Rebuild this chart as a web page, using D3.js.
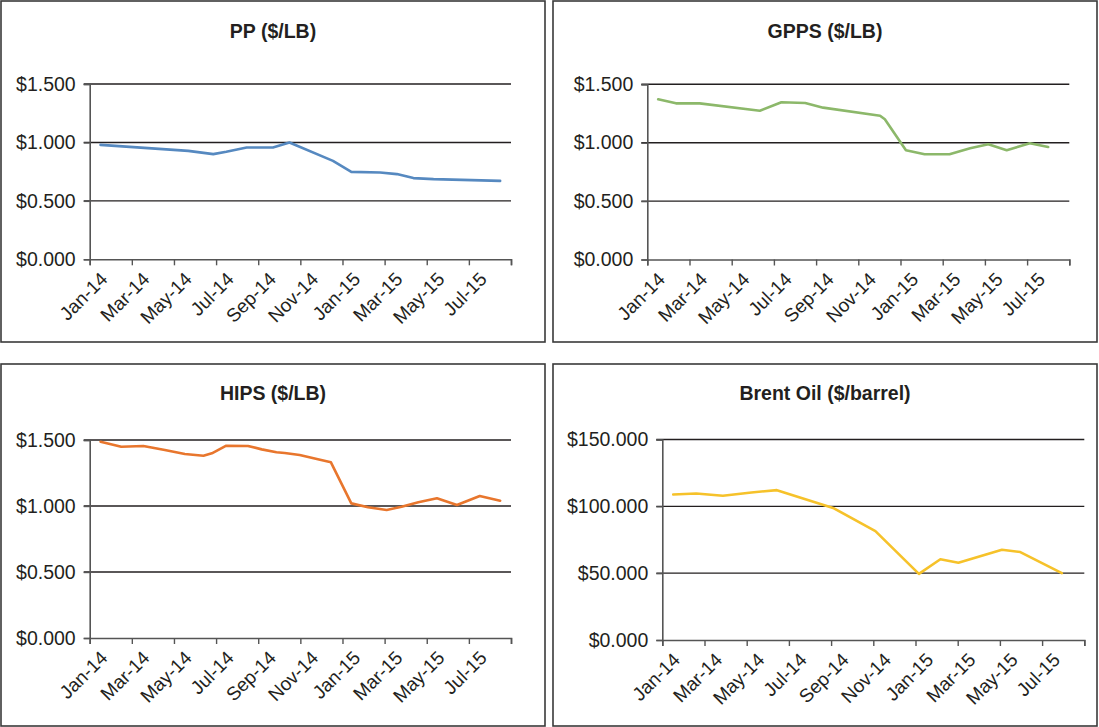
<!DOCTYPE html>
<html><head><meta charset="utf-8">
<script src="https://cdn.jsdelivr.net/npm/d3@7"></script>
<style>
body{margin:0;background:#fff;}
svg{display:block;font-family:"Liberation Sans",Arial,Helvetica,sans-serif;}
</style></head><body>
<svg id="chart" width="1099" height="727"></svg>
<script>
// ---- data ----
const tickLabels = ["Jan-14","Mar-14","May-14","Jul-14","Sep-14","Nov-14","Jan-15","Mar-15","May-15","Jul-15"];

const ppDates = ["2014-01-17","2014-05-22","2014-06-27","2014-07-16","2014-08-15","2014-09-22","2014-10-16",
  "2014-12-18","2015-01-14","2015-02-23","2015-03-19","2015-04-12","2015-05-11","2015-08-16"];
const ppValues = [0.979,0.928,0.900,0.920,0.957,0.957,1.000,0.842,0.748,0.743,0.729,0.695,0.686,0.671];

const gppsDates = ["2014-01-17","2014-02-11","2014-03-16","2014-06-11","2014-07-12","2014-08-16","2014-09-11",
  "2014-12-02","2014-12-09","2015-01-09","2015-02-05","2015-03-11","2015-04-10","2015-05-06","2015-06-02",
  "2015-07-05","2015-08-01"];
const gppsValues = [1.372,1.337,1.337,1.274,1.346,1.340,1.300,1.231,1.200,0.935,0.901,0.901,0.952,0.986,0.935,0.995,0.963];

const hipsDates = ["2014-01-17","2014-02-15","2014-03-18","2014-04-18","2014-05-17","2014-06-13","2014-06-25",
  "2014-07-16","2014-08-17","2014-09-06","2014-09-27","2014-10-09","2014-10-31","2014-11-26","2014-12-15",
  "2015-01-14","2015-02-07","2015-03-04","2015-03-26","2015-04-19","2015-05-16","2015-06-14","2015-07-17","2015-08-16"];
const hipsValues = [1.487,1.449,1.455,1.424,1.394,1.381,1.399,1.457,1.455,1.429,1.407,1.402,1.386,1.354,1.331,
  1.020,0.990,0.970,0.995,1.028,1.058,1.008,1.076,1.040];

const brentDates = ["2014-01-17","2014-02-18","2014-03-28","2014-05-08","2014-06-14","2014-09-05","2014-11-04",
  "2015-01-06","2015-02-06","2015-03-02","2015-05-04","2015-05-31","2015-07-30"];
const brentValues = [108.9,109.6,107.9,110.4,112.1,98.5,81.5,49.5,60.4,57.8,67.5,65.8,50.0];

const lbTicks = [0, 0.5, 1.0, 1.5];
const barrelTicks = [0, 50, 100, 150];

// ---- helpers ----
function monthPos(s){
  const [y,m,d] = s.split("-").map(Number);
  const dim = new Date(y, m, 0).getDate();
  return (y-2014)*12 + (m-1) + (d-1)/dim;
}
const fmt = v => "$" + d3.format(".3f")(v);

const panels = [
  {title:"PP ($/LB)", dates:ppDates, values:ppValues, color:"#5689c0", yTicks:lbTicks,
   box:{x:1,y:1,w:544,h:341}, plot:{l:89.7,r:511,t:84,b:259.3}, titleY:38},
  {title:"GPPS ($/LB)", dates:gppsDates, values:gppsValues, color:"#8cb86a", yTicks:lbTicks,
   box:{x:553,y:1,w:544,h:341}, plot:{l:647.3,r:1069.3,t:84.3,b:259.5}, titleY:38},
  {title:"HIPS ($/LB)", dates:hipsDates, values:hipsValues, color:"#e8762d", yTicks:lbTicks,
   box:{x:1,y:364,w:544,h:362}, plot:{l:89.7,r:511,t:440,b:638}, titleY:400},
  {title:"Brent Oil ($/barrel)", dates:brentDates, values:brentValues, color:"#f6c22a", yTicks:barrelTicks,
   box:{x:553,y:364,w:544,h:362}, plot:{l:662.3,r:1084.3,t:439.5,b:640}, titleY:400}
];

const svg = d3.select("#chart");

panels.forEach(p => {
  const g = svg.append("g");
  g.append("rect").attr("x",p.box.x).attr("y",p.box.y).attr("width",p.box.w).attr("height",p.box.h)
    .attr("fill","#fff").attr("stroke","#3a3a3a").attr("stroke-width",1.6);

  g.append("text").attr("x",p.box.x + p.box.w/2).attr("y",p.titleY)
    .attr("text-anchor","middle").attr("font-weight","bold").attr("font-size",19.5).attr("fill","#231f20")
    .text(p.title);

  const x = d3.scaleLinear().domain([0,20]).range([p.plot.l, p.plot.r]);
  const y = d3.scaleLinear().domain([0, d3.max(p.yTicks)]).range([p.plot.b, p.plot.t]);

  // gridlines
  g.append("g").selectAll("line").data(p.yTicks.filter(v => v > 0)).join("line")
    .attr("x1", p.plot.l - 6).attr("x2", p.plot.r)
    .attr("y1", d => y(d)).attr("y2", d => y(d))
    .attr("stroke","#231f20").attr("stroke-width",1.4);

  // y axis
  const yAxis = d3.axisLeft(y).tickValues(p.yTicks).tickFormat(fmt).tickSize(6).tickPadding(8);
  const ya = g.append("g").attr("transform",`translate(${p.plot.l},0)`).call(yAxis);
  ya.select(".domain").attr("stroke","#555").attr("stroke-width",1.6);
  ya.selectAll(".tick line").attr("stroke","#555").attr("stroke-width",1.4);
  ya.selectAll(".tick text").attr("font-size",19.5).attr("fill","#231f20")
    .attr("font-family","Liberation Sans, Arial, sans-serif");

  // x axis
  const xTickVals = d3.range(0, 21, 2);
  const xAxis = d3.axisBottom(x).tickValues(xTickVals).tickFormat("").tickSize(6).tickSizeOuter(6);
  const xa = g.append("g").attr("transform",`translate(0,${p.plot.b})`).call(xAxis);
  xa.select(".domain").attr("stroke","#555").attr("stroke-width",1.6);
  xa.selectAll(".tick line").attr("stroke","#555").attr("stroke-width",1.4);

  // rotated x labels
  g.append("g").selectAll("text").data(tickLabels).join("text")
    .attr("transform",(d,i) => `translate(${x(i*2) + 19},${p.plot.b + 21}) rotate(-45)`)
    .attr("text-anchor","end").attr("font-size",19).attr("fill","#231f20")
    .text(d => d);

  // line
  const pts = p.dates.map((d,i) => [monthPos(d), p.values[i]]);
  g.append("path").datum(pts)
    .attr("fill","none").attr("stroke",p.color).attr("stroke-width",2.6)
    .attr("stroke-linejoin","round").attr("stroke-linecap","round")
    .attr("d", d3.line().x(d => x(d[0])).y(d => y(d[1])));
});
</script>
</body></html>
